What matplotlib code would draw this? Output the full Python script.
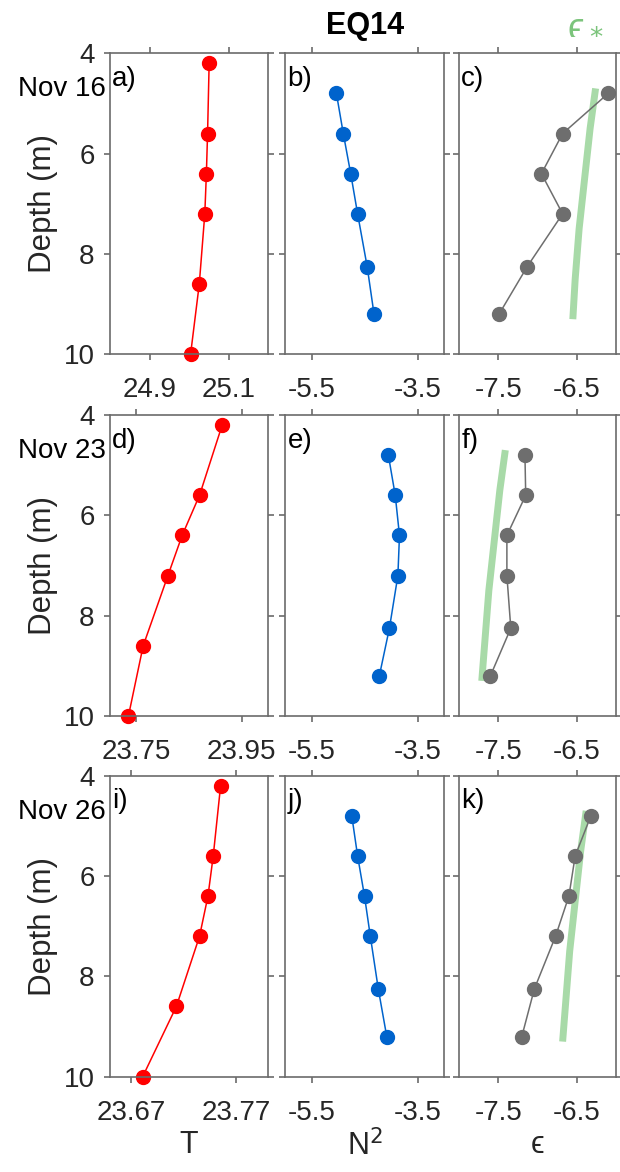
import numpy as np
import matplotlib
matplotlib.use('Agg')
import matplotlib.pyplot as plt

plt.rcParams['font.family'] = ['Liberation Sans', 'DejaVu Sans']
plt.rcParams['mathtext.fontset'] = 'dejavusans'

# Sample depths (m)
t_depth = [4.2, 5.6, 6.4, 7.2, 8.6, 10.0]
mid_depth = [4.8, 5.6, 6.4, 7.2, 8.25, 9.2]
star_depth = [4.7, 5.5, 6.5, 7.5, 8.5, 9.3]

dates = ['Nov 16', 'Nov 23', 'Nov 26']
panel_labels = [['a)', 'b)', 'c)'], ['d)', 'e)', 'f)'], ['i)', 'j)', 'k)']]

# Temperature profiles
temp = [
    [25.051, 25.047, 25.044, 25.040, 25.026, 25.004],
    [23.913, 23.870, 23.837, 23.810, 23.763, 23.735],
    [23.755, 23.748, 23.743, 23.735, 23.713, 23.681],
]
temp_lims = [(24.8, 25.2), (23.7, 24.0), (23.65, 23.80)]
temp_ticks = [[24.9, 25.1], [23.75, 23.95], [23.67, 23.77]]
temp_ticklabels = [['24.9', '25.1'], ['23.75', '23.95'], ['23.67', '23.77']]

# log10 N^2
n2 = [
    [-5.03, -4.90, -4.76, -4.63, -4.45, -4.32],
    [-4.05, -3.92, -3.84, -3.87, -4.03, -4.22],
    [-4.74, -4.63, -4.50, -4.39, -4.24, -4.08],
]

# log10 epsilon
eps = [
    [-6.10, -6.68, -6.95, -6.68, -7.13, -7.49],
    [-7.16, -7.15, -7.39, -7.39, -7.34, -7.60],
    [-6.32, -6.52, -6.60, -6.77, -7.04, -7.20],
]

# log10 epsilon_* (wind-driven scaling)
eps_star = [
    [-6.26, -6.33, -6.40, -6.47, -6.52, -6.55],
    [-7.41, -7.48, -7.55, -7.62, -7.67, -7.71],
    [-6.38, -6.45, -6.52, -6.59, -6.64, -6.68],
]

gray_spine = '#6b6b6b'
tick_col = '#262626'

fig = plt.figure(figsize=(6.2, 11.72), dpi=100)

lefts = [110 / 620, 285 / 620, 459 / 620]
widths = [158 / 620, 159 / 620, 157 / 620]
bottoms = [1 - 354.3 / 1172, 1 - 716 / 1172, 1 - 1076.7 / 1172]
height = 301 / 1172

def style_axes(ax, first_col):
    for s in ax.spines.values():
        s.set_color(gray_spine)
        s.set_linewidth(1.2)
    ax.set_ylim(10, 4)
    ax.set_yticks([4, 6, 8, 10])
    ax.tick_params(which='both', direction='out', length=4, width=1.2,
                   color=gray_spine, labelcolor=tick_col, labelsize=20,
                   top=True, right=True, labeltop=False, labelright=False)
    ax.tick_params(axis='x', pad=12.5)
    ax.tick_params(axis='y', pad=7)
    if not first_col:
        ax.set_yticklabels([])

for r in range(3):
    axs = []
    for c in range(3):
        ax = fig.add_axes([lefts[c], bottoms[r], widths[c], height])
        style_axes(ax, c == 0)
        axs.append(ax)

    ax_t, ax_n, ax_e = axs

    ax_t.plot(temp[r], t_depth, '-o', color='#ff0000', lw=1.1, ms=10, clip_on=False)
    ax_t.set_xlim(*temp_lims[r])
    ax_t.set_xticks(temp_ticks[r])
    ax_t.set_xticklabels(temp_ticklabels[r])
    ax_t.set_ylabel('Depth (m)', fontsize=22.5, color=tick_col, labelpad=4)
    ax_t.text(-0.025, 0.88, dates[r], transform=ax_t.transAxes, ha='right',
              va='center', fontsize=20, color='black')

    ax_n.plot(n2[r], mid_depth, '-o', color='#0063cc', lw=1.1, ms=10, clip_on=False)
    ax_n.set_xlim(-6, -3)
    ax_n.set_xticks([-5.5, -3.5])
    ax_n.set_xticklabels(['-5.5', '-3.5'])

    ax_e.plot(eps_star[r], star_depth, '-', color='#a8daa8', lw=5,
              solid_capstyle='butt', zorder=1)
    ax_e.plot(eps[r], mid_depth, '-o', color='#6e6e6e', lw=1.1, ms=10,
              zorder=2, clip_on=False)
    ax_e.set_xlim(-8, -6)
    ax_e.set_xticks([-7.5, -6.5])
    ax_e.set_xticklabels(['-7.5', '-6.5'])

    for c, ax in enumerate(axs):
        ax.text(0.015, 0.915, panel_labels[r][c], transform=ax.transAxes,
                ha='left', va='center', fontsize=20, color='black')

    if r == 2:
        ax_t.set_xlabel('T', fontsize=22, color=tick_col, labelpad=3)
        ax_n.set_xlabel(r'N$^2$', fontsize=22, color=tick_col, labelpad=3)
        ax_e.set_xlabel('\u03f5', fontsize=22, color=tick_col, labelpad=3)

fig.text(365 / 620, 1 - 26 / 1172, 'EQ14', ha='center', va='center',
         fontsize=22, fontweight='bold', color='black')
fig.text(585 / 620, 1 - 24 / 1172, '\u03f5$_*$', ha='center', va='center',
         fontsize=27, color='#7cc47c')

fig.savefig('out.png', dpi=100)
